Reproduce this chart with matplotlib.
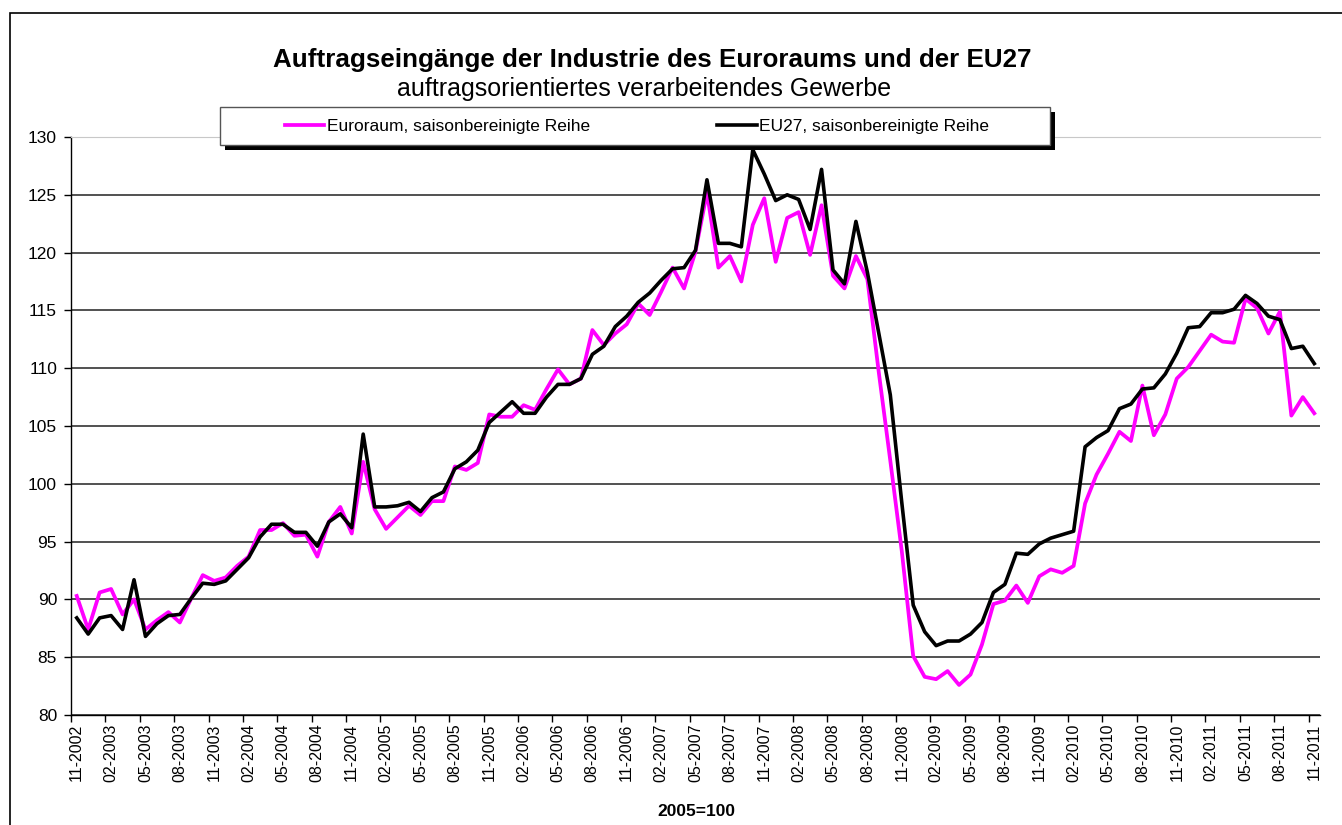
import numpy as np
import pandas as pd
import matplotlib
matplotlib.use("Agg")
import matplotlib.pyplot as plt
from matplotlib.patches import Rectangle

plt.rcParams['font.family'] = ['Liberation Sans', 'DejaVu Sans']

# Monate 11-2002 .. 11-2011
months = pd.period_range('2002-11', '2011-11', freq='M').strftime('%m-%Y')

euroraum = [90.3, 87.4, 90.6, 90.9, 88.7, 90.0, 87.4, 88.2, 88.9, 88.0,
            90.1, 92.1, 91.6, 91.9, 92.9, 93.7, 96.0, 96.0, 96.6, 95.5,
            95.6, 93.7, 96.7, 98.0, 95.7, 101.9, 97.8, 96.1, 97.1, 98.1,
            97.3, 98.5, 98.5, 101.5, 101.2, 101.8, 106.0, 105.8, 105.8, 106.8,
            106.4, 108.2, 109.9, 108.6, 109.1, 113.3, 112.0, 113.0, 113.8, 115.6,
            114.6, 116.6, 118.7, 116.9, 120.1, 125.2, 118.7, 119.7, 117.5, 122.4,
            124.7, 119.2, 123.0, 123.5, 119.8, 124.1, 118.0, 116.9, 119.7, 117.7,
            109.6, 102.0, 94.2, 85.1, 83.3, 83.1, 83.8, 82.6, 83.5, 86.1,
            89.6, 89.9, 91.2, 89.7, 92.0, 92.6, 92.3, 92.9, 98.3, 100.8,
            102.6, 104.5, 103.7, 108.5, 104.2, 106.0, 109.1, 110.1, 111.5, 112.9,
            112.3, 112.2, 116.0, 115.2, 113.0, 114.9, 105.9, 107.5, 106.1]

eu27 = [88.4, 87.0, 88.4, 88.6, 87.4, 91.7, 86.8, 87.9, 88.6, 88.7,
        90.1, 91.4, 91.3, 91.6, 92.6, 93.6, 95.4, 96.5, 96.5, 95.8,
        95.8, 94.6, 96.7, 97.4, 96.2, 104.3, 98.0, 98.0, 98.1, 98.4,
        97.6, 98.8, 99.3, 101.3, 101.9, 102.9, 105.3, 106.2, 107.1, 106.1,
        106.1, 107.5, 108.6, 108.6, 109.1, 111.2, 111.9, 113.6, 114.5, 115.7,
        116.5, 117.6, 118.6, 118.7, 120.2, 126.3, 120.8, 120.8, 120.5, 128.9,
        126.8, 124.5, 125.0, 124.6, 122.0, 127.2, 118.5, 117.3, 122.7, 118.3,
        113.0, 107.7, 98.4, 89.5, 87.2, 86.0, 86.4, 86.4, 87.0, 88.0,
        90.6, 91.3, 94.0, 93.9, 94.8, 95.3, 95.6, 95.9, 103.2, 104.0,
        104.6, 106.5, 106.9, 108.2, 108.3, 109.5, 111.3, 113.5, 113.6, 114.8,
        114.8, 115.1, 116.3, 115.6, 114.5, 114.2, 111.7, 111.9, 110.4]

W, H = 1342, 825
fig = plt.figure(figsize=(W / 100, H / 100), dpi=100)
ax = fig.add_axes([71 / W, 1 - 715 / H, (1320 - 71) / W, (715 - 137) / H])

x = np.arange(len(months))
ax.plot(x, euroraum, color='#FF00FF', lw=2.7, solid_joinstyle='round',
        label='Euroraum, saisonbereinigte Reihe', zorder=3)
ax.plot(x, eu27, color='black', lw=2.6, solid_joinstyle='round',
        label='EU27, saisonbereinigte Reihe', zorder=3.1)

ax.set_xlim(-0.5, len(months) - 0.5)
ax.set_ylim(80, 130)
ax.set_yticks(np.arange(80, 131, 5))
ax.set_axisbelow(True)
ax.yaxis.grid(True, color='#222222', lw=1.1)
ax.get_ygridlines()[-1].set_visible(False)

# Striche an den Kategoriegrenzen, Beschriftung in der Mitte
ax.set_xticks(np.arange(-0.5, len(months) - 1, 3))
ax.set_xticklabels([])
ax.set_xticks(x[::3], minor=True)
ax.set_xticklabels(months[::3], minor=True, rotation=90)
ax.tick_params(axis='x', which='major', length=5, width=1, direction='out')
ax.tick_params(axis='x', which='minor', length=0, pad=6, labelsize=11.5)
ax.tick_params(axis='y', length=5, width=1, pad=5, labelsize=12.5)

ax.spines['right'].set_visible(False)
ax.spines['top'].set_color('#c8c8c8')
ax.spines['left'].set_linewidth(1)
ax.spines['bottom'].set_linewidth(1)

# Legendenkasten mit Schatten
lx0, lx1, ly0, ly1 = 220, 1050, 107, 145
ax.add_patch(Rectangle((lx0 / W + 5 / W, 1 - ly1 / H - 5 / H), (lx1 - lx0) / W, (ly1 - ly0) / H,
                       transform=fig.transFigure, facecolor='black', edgecolor='none',
                       clip_on=False, zorder=4))
ax.add_patch(Rectangle((lx0 / W, 1 - ly1 / H), (lx1 - lx0) / W, (ly1 - ly0) / H,
                       transform=fig.transFigure, facecolor='white', edgecolor='#555555',
                       lw=1, clip_on=False, zorder=4.5))
leg = ax.legend(loc='center', bbox_to_anchor=(637 / W, 1 - 126 / H), bbox_transform=fig.transFigure,
                ncol=2, frameon=False, handlelength=2.3, handletextpad=0.15,
                columnspacing=7.3, fontsize=12.5)
leg.set_zorder(5)

fig.text(652 / W, 1 - 60 / H, 'Auftragseingänge der Industrie des Euroraums und der EU27',
         ha='center', va='center', fontsize=18.7, fontweight='bold')
fig.text(644 / W, 1 - 89 / H, 'auftragsorientiertes verarbeitendes Gewerbe',
         ha='center', va='center', fontsize=18)
fig.text(696 / W, 1 - 812 / H, '2005=100', ha='center', va='center',
         fontsize=12.5, fontweight='bold')

# äußerer Rahmen (nur oben und links sichtbar)
fig.patches.append(Rectangle((10 / W, -0.05), 1.1, 1 - 13 / H + 0.05, transform=fig.transFigure,
                             fill=False, edgecolor='black', lw=1.2, clip_on=False))

fig.savefig('out.png', dpi=100)
